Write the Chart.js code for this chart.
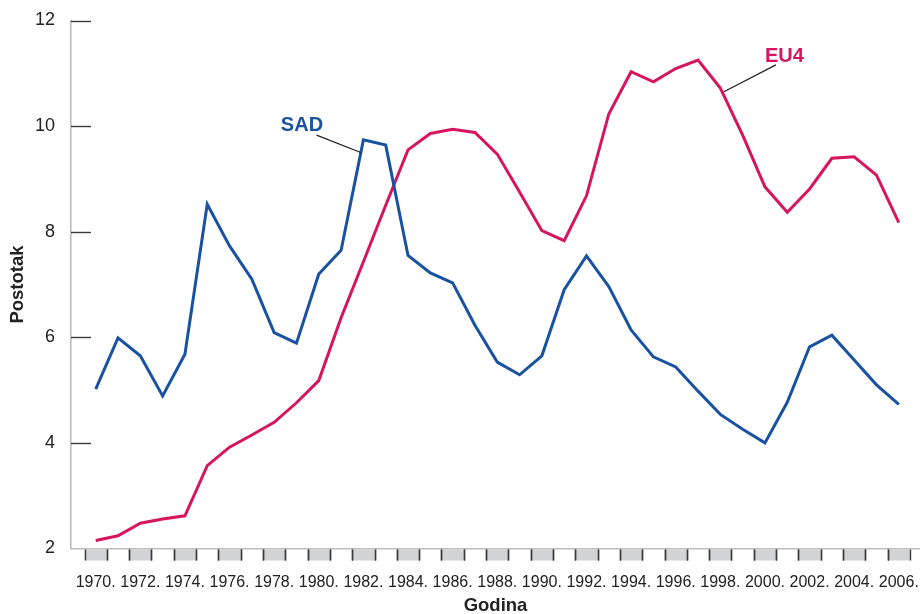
<!DOCTYPE html>
<html>
<head>
<meta charset="utf-8">
<script src="https://cdn.jsdelivr.net/npm/chart.js@4.4.1/dist/chart.umd.min.js"></script>
<style>
  html, body { margin: 0; padding: 0; background: #fff; }
  #wrap { width: 920px; height: 614px; }
</style>
</head>
<body>
<div id="wrap"><canvas id="kamate"></canvas></div>
<script>
// godine 1970.-2006.
var godine = [1970,1971,1972,1973,1974,1975,1976,1977,1978,1979,1980,1981,1982,1983,1984,1985,1986,1987,1988,1989,
              1990,1991,1992,1993,1994,1995,1996,1997,1998,1999,2000,2001,2002,2003,2004,2005,2006];
var sad = [5.02,5.99,5.65,4.89,5.68,8.52,7.73,7.10,6.09,5.89,7.20,7.65,9.74,9.64,7.55,7.22,7.03,6.23,5.53,5.29,
           5.65,6.90,7.54,6.96,6.14,5.63,5.44,4.98,4.54,4.26,4.00,4.77,5.82,6.04,5.57,5.10,4.73];
var eu4 = [2.15,2.24,2.48,2.56,2.62,3.57,3.92,4.15,4.39,4.76,5.18,6.37,7.43,8.50,9.55,9.86,9.94,9.88,9.47,8.75,
           8.02,7.83,8.68,10.23,11.03,10.84,11.09,11.25,10.72,9.83,8.85,8.37,8.81,9.39,9.42,9.07,8.17];
var oznakeGodina = [1970,1972,1974,1976,1978,1980,1982,1984,1986,1988,1990,1992,1994,1996,1998,2000,2002,2004,2006];
var oznakeY = [2,4,6,8,10,12];

// natpisi serija: tekst, polozaj teksta i kraj crte (u jedinicama osi)
var natpisi = [
  { tekst: 'SAD', boja: '#1a52a2', x: 1978.30, y: 9.91, crta: [1979.9, 9.83, 1981.88, 9.50] },
  { tekst: 'EU4', boja: '#d7155f', x: 2000.0, y: 11.21, crta: [2000.49, 11.16, 1998.16, 10.65] }
];

var font = 'Liberation Sans, Arial, Helvetica, sans-serif';

var dodaci = {
  id: 'dodaci',
  afterDraw: function(chart) {
    var ctx = chart.ctx, x = chart.scales.x, y = chart.scales.y;
    var a = chart.chartArea;
    ctx.save();
    // sive kucice ispod osi
    godine.forEach(function(g) {
      var x0 = x.getPixelForValue(g - 0.5), x1 = x.getPixelForValue(g + 0.5);
      if (g % 2 === 0) {
        ctx.fillStyle = '#d2d3d5';
        ctx.fillRect(x0, a.bottom + 1, x1 - x0, 11);
      }
    });
    ctx.strokeStyle = '#3a3a3a';
    ctx.lineWidth = 1.4;
    godine.forEach(function(g) {
      [g - 0.5, g + 0.5].forEach(function(v) {
        var px = Math.round(x.getPixelForValue(v)) + 0.5;
        ctx.beginPath();
        ctx.moveTo(px, a.bottom + 1);
        ctx.lineTo(px, a.bottom + 12);
        ctx.stroke();
      });
    });
    // crtice y osi prema unutra
    oznakeY.forEach(function(v) {
      if (v === 2) return;
      var py = Math.round(y.getPixelForValue(v)) + 0.5;
      ctx.beginPath();
      ctx.moveTo(a.left, py);
      ctx.lineTo(a.left + 20, py);
      ctx.stroke();
    });
    // natpisi serija
    natpisi.forEach(function(n) {
      ctx.strokeStyle = '#222';
      ctx.lineWidth = 1.2;
      ctx.beginPath();
      ctx.moveTo(x.getPixelForValue(n.crta[0]), y.getPixelForValue(n.crta[1]));
      ctx.lineTo(x.getPixelForValue(n.crta[2]), y.getPixelForValue(n.crta[3]));
      ctx.stroke();
      ctx.fillStyle = n.boja;
      ctx.font = 'bold 20px ' + font;
      ctx.textAlign = 'left';
      ctx.textBaseline = 'alphabetic';
      ctx.fillText(n.tekst, x.getPixelForValue(n.x), y.getPixelForValue(n.y));
    });
    ctx.restore();
  }
};

new Chart(document.getElementById('kamate'), {
  type: 'line',
  data: {
    datasets: [{
      label: 'SAD',
      data: godine.map(function(g, i) { return { x: g, y: sad[i] }; }),
      borderColor: '#1a52a2',
      borderWidth: 3,
      pointRadius: 0,
      tension: 0
    }, {
      label: 'EU4',
      data: godine.map(function(g, i) { return { x: g, y: eu4[i] }; }),
      borderColor: '#d7155f',
      borderWidth: 3,
      pointRadius: 0,
      tension: 0
    }]
  },
  options: {
    responsive: true,
    maintainAspectRatio: false,
    animation: false,
    layout: { padding: { top: 20.5, right: 0, left: 0, bottom: 0 } },
    plugins: { legend: { display: false }, tooltip: { enabled: false } },
    scales: {
      x: {
        type: 'linear',
        min: 1968.893,
        max: 2006.95,
        grid: { display: false, drawTicks: false },
        border: { color: '#bdbdbd', width: 1.6 },
        afterBuildTicks: function(s) { s.ticks = oznakeGodina.map(function(v) { return { value: v }; }); },
        afterFit: function(s) { s.height = 65.5; s.paddingLeft = 0; s.paddingRight = 0; },
        ticks: {
          autoSkip: false, maxRotation: 0, padding: 24,
          color: '#222', font: { family: font, size: 16 },
          callback: function(v) { return v + '.'; }
        },
        title: {
          display: true, text: 'Godina', color: '#222',
          padding: { top: 0, bottom: 0 },
          font: { family: font, size: 18.5, weight: 'bold', lineHeight: 0.9 }
        }
      },
      y: {
        min: 2,
        max: 12,
        grid: { display: false, drawTicks: false },
        border: { color: '#bdbdbd', width: 1.6 },
        afterBuildTicks: function(s) { s.ticks = oznakeY.map(function(v) { return { value: v }; }); },
        afterFit: function(s) { s.width = 71; s.paddingTop = 0; s.paddingBottom = 0; },
        ticks: { padding: 16, color: '#222', font: { family: font, size: 18 } },
        title: {
          display: true, text: 'Postotak', color: '#222',
          padding: { top: 7, bottom: 0 },
          font: { family: font, size: 18.5, weight: 'bold' }
        }
      }
    }
  },
  plugins: [dodaci]
});
</script>
</body>
</html>
